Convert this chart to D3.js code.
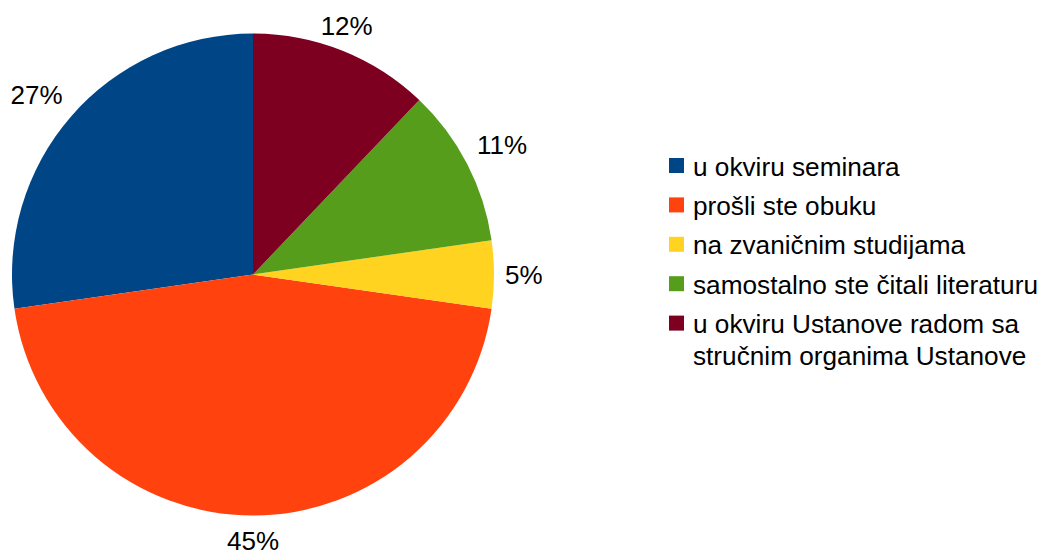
<!DOCTYPE html>
<html>
<head>
<meta charset="utf-8">
<script src="https://cdn.jsdelivr.net/npm/d3@7"></script>
<style>
  html, body { margin: 0; padding: 0; background: #ffffff; }
  svg { display: block; }
  text { font-family: "Liberation Sans", Arial, sans-serif; fill: #000; }
</style>
</head>
<body>
<svg id="chart" width="1044" height="556"></svg>
<script>
// ---- data ----
const categories = [
  "u okviru seminara",
  "prošli ste obuku",
  "na zvaničnim studijama",
  "samostalno ste čitali literaturu",
  "u okviru Ustanove radom sa stručnim organima Ustanove"
];
const counts = [18, 30, 3, 7, 8];
const colors = ["#004586", "#ff420e", "#ffd320", "#579d1c", "#7e0021"];

// ---- layout ----
const W = 1044, H = 556;
const cx = 253, cy = 274.5, radius = 241;
const labelFont = 26, legendFont = 26.2;

const svg = d3.select("#chart");
const total = d3.sum(counts);
const data = categories.map((c, i) => ({ cat: c, value: counts[i], color: colors[i] }));

const pie = d3.pie().value(d => d.value).sort(null)
  .startAngle(0).endAngle(-2 * Math.PI);
const arcs = pie(data);
const arc = d3.arc().innerRadius(0).outerRadius(radius);

const g = svg.append("g").attr("transform", `translate(${cx},${cy})`);
g.selectAll("path.slice").data(arcs).enter().append("path")
  .attr("class", "slice")
  .attr("d", arc)
  .attr("fill", d => d.data.color);

// ---- percentage labels ----
const fmt = v => Math.round(v / total * 100) + "%";
const labelR = radius + 11;
const asc = 0.905 * labelFont, desc = 0.212 * labelFont;
arcs.forEach(d => {
  const mid = (d.startAngle + d.endAngle) / 2;
  let deg = ((mid * 180 / Math.PI) % 360 + 360) % 360;
  const px = Math.sin(mid) * labelR, py = -Math.cos(mid) * labelR;
  const sector = Math.round(deg / 45) % 8;
  const hAlign = [ "middle", "start", "start", "start", "middle", "end", "end", "end" ][sector];
  const vAlign = [ "bottom", "bottom", "middle", "top", "top", "top", "middle", "bottom" ][sector];
  let baseline;
  if (vAlign === "bottom") baseline = py - desc;
  else if (vAlign === "top") baseline = py + asc;
  else baseline = py + (asc - desc) / 2;
  g.append("text")
    .attr("x", px)
    .attr("y", baseline)
    .attr("text-anchor", hAlign)
    .style("font-size", labelFont + "px")
    .text(fmt(d.value));
});

// ---- legend ----
const legX = 669, textX = 693, base0 = 175.5, rowStep = 39.4, lineStep = 31.7, sq = 15;
const maxTextW = W - textX - 2;
const legend = svg.append("g");
let extraLines = 0;
data.forEach((d, i) => {
  const baseline = base0 + i * rowStep + extraLines * lineStep;
  legend.append("rect")
    .attr("x", legX).attr("y", baseline - 17.5)
    .attr("width", sq).attr("height", sq)
    .attr("fill", d.color);
  const t = legend.append("text")
    .attr("x", textX).attr("y", baseline)
    .style("font-size", legendFont + "px");
  // wrap words to available width
  const words = d.cat.split(" ");
  let line = [];
  let tspan = t.append("tspan").attr("x", textX).attr("dy", 0);
  let lines = 1;
  words.forEach(w => {
    line.push(w);
    tspan.text(line.join(" "));
    if (tspan.node().getComputedTextLength() > maxTextW && line.length > 1) {
      line.pop();
      tspan.text(line.join(" "));
      line = [w];
      tspan = t.append("tspan").attr("x", textX).attr("dy", lineStep).text(w);
      lines++;
    }
  });
  extraLines += lines - 1;
});
</script>
</body>
</html>
